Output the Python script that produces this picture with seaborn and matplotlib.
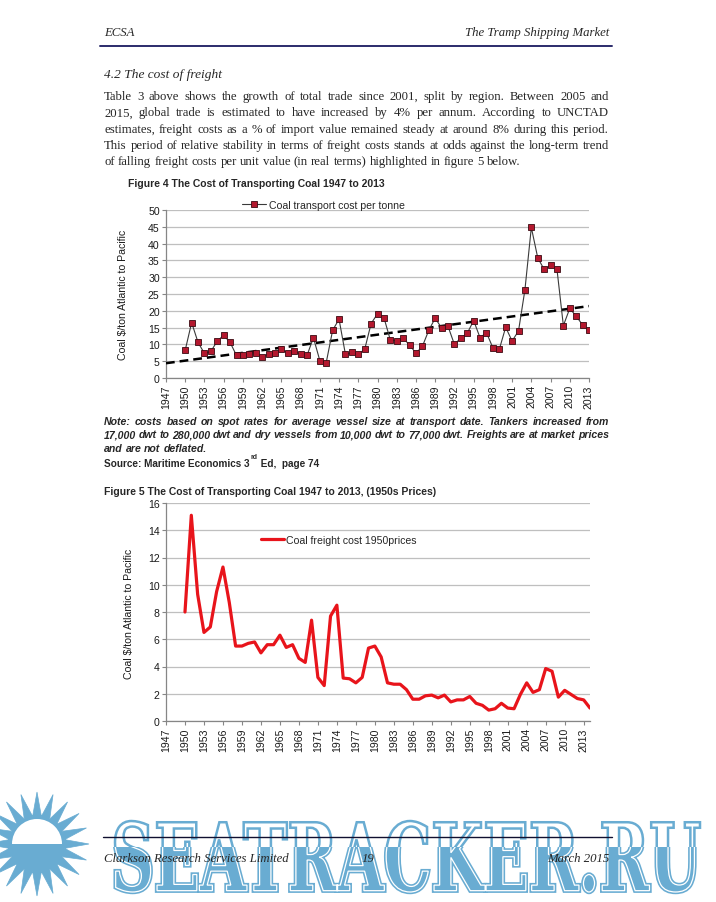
import numpy as np
import pandas as pd
import matplotlib
matplotlib.use("Agg")
import matplotlib.pyplot as plt
import seaborn as sns
from matplotlib.font_manager import FontProperties
from matplotlib.textpath import TextPath
from matplotlib.patches import PathPatch, Rectangle, Polygon, Wedge
from matplotlib.transforms import Affine2D

# ************* DATA *****************

# figure 4: nominal cost per tonne, 1950-2013
years_nominal = list(range(1950, 2014))
cost_nominal = [8.3, 16.5, 10.6, 7.3, 7.9, 11.0, 12.7, 10.6, 6.7, 6.8,
                7.0, 7.3, 6.3, 7.2, 7.4, 8.5, 7.4, 7.9, 7.1, 6.7,
                12.0, 5.2, 4.6, 14.2, 17.5, 7.0, 7.6, 7.1, 8.5, 16.2,
                19.1, 18.0, 11.3, 11.1, 11.9, 9.8, 7.4, 9.4, 14.2, 17.8,
                14.9, 15.4, 10.0, 11.9, 13.3, 17.1, 12.0, 13.5, 9.0, 8.5,
                15.1, 11.0, 14.0, 26.2, 44.8, 35.8, 32.3, 33.5, 32.4, 15.6,
                20.7, 18.4, 15.8, 14.2]
# dashed linear trend at both ends
trend_years = [1947, 2013]
trend_vals = [4.4, 21.4]

# figure 5: cost in 1950s prices, 1950-2014
years_real = list(range(1950, 2015))
cost_real = [8.0, 15.1, 9.3, 6.5, 6.9, 9.5, 11.3, 8.7, 5.5, 5.5,
             5.7, 5.8, 5.0, 5.6, 5.6, 6.3, 5.4, 5.6, 4.6, 4.3,
             7.4, 3.2, 2.6, 7.7, 8.5, 3.15, 3.1, 2.8, 3.2, 5.35,
             5.5, 4.7, 2.8, 2.7, 2.7, 2.3, 1.6, 1.6, 1.85, 1.9,
             1.7, 1.9, 1.4, 1.55, 1.55, 1.8, 1.3, 1.15, 0.8, 0.9,
             1.3, 0.95, 0.9, 1.95, 2.8, 2.1, 2.3, 3.85, 3.65, 1.75,
             2.25, 1.95, 1.65, 1.55, 0.95]

xtick_years = list(range(1947, 2014, 3))

body_lines = [
    "Table 3 above shows the growth of total trade since 2001, split by region. Between 2005 and",
    "2015, global trade is estimated to have increased by 4% per annum. According to UNCTAD",
    "estimates, freight costs as a % of import value remained steady at around 8% during this period.",
    "This period of relative stability in terms of freight costs stands at odds against the long-term trend",
    "of falling freight costs per unit value (in real terms) highlighted in figure 5 below.",
]
note_lines = [
    "Note: costs based on spot rates for average vessel size at transport date. Tankers increased from",
    "17,000 dwt to 280,000 dwt and dry vessels from 10,000 dwt to 77,000 dwt. Freights are at market prices",
    "and are not deflated.",
]

# ************* PAGE *****************

W, H = 716, 903
def fx(px):
    return px / W
def fy(py):
    return 1 - py / H

sns.set_style("white")
plt.rcParams['font.family'] = ['Liberation Sans', 'DejaVu Sans']

fig = plt.figure(figsize=(W / 100, H / 100), dpi=100)
fig.patch.set_facecolor("white")
renderer = fig.canvas.get_renderer()

serif = FontProperties(family="Liberation Serif", size=9.2)
serif_it = FontProperties(family="Liberation Serif", style="italic", size=9.2)
note_prop = FontProperties(family="Liberation Sans", style="italic", weight="bold", size=7.6)
bold_small = FontProperties(family="Liberation Sans", weight="bold", size=7.5)
small = 7.6

def text_w(s, prop):
    return renderer.get_text_width_height_descent(s, prop, ismath=False)[0]

def justified(line, x0, x1, y, prop, last=False, z=5):
    words = line.split()
    widths = [text_w(w, prop) for w in words]
    natural = text_w("a b", prop) - text_w("ab", prop)
    if last or len(words) < 2:
        gap = natural
    else:
        gap = max((x1 - x0 - sum(widths)) / (len(words) - 1), natural * 0.6)
    x = x0
    for w, wd in zip(words, widths):
        fig.text(fx(x), fy(y), w, fontproperties=prop, va="baseline", ha="left", zorder=z)
        x += wd + gap

# header
fig.text(fx(104), fy(36), "ECSA", fontproperties=serif_it, va="baseline")
fig.text(fx(609), fy(36), "The Tramp Shipping Market", fontproperties=serif_it,
         va="baseline", ha="right")
fig.add_artist(plt.Line2D([fx(100), fx(612)], [fy(47), fy(47)], color="#2b2b6b", lw=1.4))

fig.text(fx(104), fy(78), "4.2 The cost of freight",
         fontproperties=FontProperties(family="Liberation Serif", style="italic", size=9.6),
         va="baseline")
for i, line in enumerate(body_lines):
    justified(line, 104, 609, 100 + i * 16.3, serif, last=(i == len(body_lines) - 1))

# ************* FIGURE 4 *****************

fig.text(fx(128), fy(187), "Figure 4 The Cost of Transporting Coal 1947 to 2013",
         fontproperties=bold_small, va="baseline")

grid_c = "#bfbfbf"
axis_c = "#868686"

ax1 = fig.add_axes([fx(166), fy(379), (589 - 166) / W, (379 - 211) / H])
sns.lineplot(x=years_nominal, y=cost_nominal, ax=ax1, color="#3a3a3a", lw=0.8,
             marker="s", markersize=4.3, markerfacecolor="#b3182e",
             markeredgecolor="#3b0a12", markeredgewidth=0.6,
             label="Coal transport cost per tonne", zorder=4)
ax1.plot(trend_years, trend_vals, color="black", lw=1.8, ls=(0, (3.5, 2)), zorder=3)
ax1.set_xlim(1947, 2013)
ax1.set_ylim(0, 50)
ax1.set_yticks(range(0, 51, 5))
ax1.set_xticks(xtick_years)
ax1.set_xticklabels([str(y) for y in xtick_years], rotation=90)
ax1.legend_.remove()

ax2 = fig.add_axes([fx(166), fy(722), (590 - 166) / W, (722 - 504) / H])
sns.lineplot(x=years_real, y=cost_real, ax=ax2, color="#e8141b", lw=2.3,
             label="Coal freight cost 1950prices", zorder=4)
ax2.set_xlim(1947, 2014)
ax2.set_ylim(0, 16)
ax2.set_yticks(range(0, 17, 2))
ax2.set_xticks(xtick_years)
ax2.set_xticklabels([str(y) for y in xtick_years], rotation=90)
ax2.legend_.remove()

for ax in (ax1, ax2):
    ax.set_xlabel("")
    ax.set_ylabel("")
    ax.set_facecolor("none")
    ax.yaxis.grid(True, color=grid_c, lw=0.9)
    ax.xaxis.grid(False)
    ax.set_axisbelow(True)
    for s in ("top", "right"):
        ax.spines[s].set_visible(False)
    for s in ("left", "bottom"):
        ax.spines[s].set_color(axis_c)
        ax.spines[s].set_linewidth(0.9)
    ax.tick_params(axis="both", which="major", labelsize=small, length=3, width=0.8,
                   color=axis_c, pad=1.5, labelcolor="#1a1a1a", direction="out")
    ax.tick_params(axis="x", bottom=True)
    ax.tick_params(axis="y", left=True)

fig.text(fx(123), fy(295), "Coal $/ton Atlantic to Pacific", rotation=90,
         ha="center", va="center", fontsize=small, color="#1a1a1a")
fig.text(fx(129), fy(614), "Coal $/ton Atlantic to Pacific", rotation=90,
         ha="center", va="center", fontsize=small, color="#1a1a1a")

h1, l1 = ax1.get_legend_handles_labels()
fig.legend(h1[:1], l1[:1], loc="center left", bbox_to_anchor=(fx(242), fy(206)),
           frameon=False, fontsize=small, handlelength=2.3, handletextpad=0.25,
           borderpad=0, borderaxespad=0)
h2, l2 = ax2.get_legend_handles_labels()
fig.legend(h2[:1], l2[:1], loc="center left", bbox_to_anchor=(fx(261), fy(541)),
           frameon=False, fontsize=small, handlelength=2.2, handletextpad=0.2,
           borderpad=0, borderaxespad=0)

# note + source
for i, line in enumerate(note_lines):
    justified(line, 104, 609, 425 + i * 13.5, note_prop, last=(i == len(note_lines) - 1))
src1 = "Source: Maritime Economics 3"
src_prop = FontProperties(family="Liberation Sans", weight="bold", size=7.2)
fig.text(fx(104), fy(467), src1, fontproperties=src_prop, va="baseline")
xs = 104 + text_w(src1, src_prop) + 1
sup = FontProperties(family="Liberation Sans", weight="bold", size=5)
fig.text(fx(xs), fy(459), "rd", fontproperties=sup, va="baseline")
fig.text(fx(xs + text_w("rd", sup) + 1), fy(467), " Ed,  page 74",
         fontproperties=src_prop, va="baseline")

fig.text(fx(104), fy(495), "Figure 5 The Cost of Transporting Coal 1947 to 2013, (1950s Prices)",
         fontproperties=bold_small, va="baseline")

# ************* WATERMARK *****************

wm_blue = "#69acd2"
water_level = H - 848  # display coords

tp = TextPath((0, 0), "SEATRACKER.RU", size=1,
              prop=FontProperties(family="DejaVu Serif", weight="bold"))
ext = tp.get_extents()
sx = (700 - 115) / ext.width
sy = (893 - 822) / ext.height
tr = Affine2D().translate(-ext.x0, -ext.y0).scale(sx, sy).translate(115, H - 893)

low_clip = Rectangle((0, 0), W, water_level, transform=None)
high_clip = Rectangle((0, water_level), W, H, transform=None)

p_low_rim = PathPatch(tp, transform=tr, fc=wm_blue, ec=wm_blue, lw=3.2, zorder=1)
p_low = PathPatch(tp, transform=tr, fc=wm_blue, ec="white", lw=0.9, zorder=1.1)
p_high = PathPatch(tp, transform=tr, fc="white", ec=wm_blue, lw=1.8, zorder=1.2)
for p, c in ((p_low_rim, low_clip), (p_low, low_clip), (p_high, high_clip)):
    fig.add_artist(p)
    p.set_clip_path(c)

# sun
cx, cy = 37, H - 845
n_rays = 20
ang = np.linspace(0, 2 * np.pi, 2 * n_rays, endpoint=False)
rad = np.where(np.arange(2 * n_rays) % 2 == 0, 52, 28)
star = Polygon(np.column_stack([cx + rad * np.cos(ang), cy + rad * np.sin(ang)]),
               closed=True, transform=None, fc=wm_blue, ec=wm_blue, lw=0.5, zorder=1)
fig.add_artist(star)
fig.add_artist(Wedge((cx, cy), 25, 0, 180, transform=None, fc="white", ec="none", zorder=1.2))

# ************* FOOTER *****************

fig.add_artist(plt.Line2D([fx(103), fx(612)], [fy(838), fy(838)], color="#101030", lw=1.0,
                          zorder=6))
fig.text(fx(104), fy(862), "Clarkson Research Services Limited", fontproperties=serif_it,
         va="baseline", zorder=6)
fig.text(fx(368), fy(862), "19", fontproperties=serif_it, va="baseline", ha="center", zorder=6)
fig.text(fx(609), fy(862), "March 2015", fontproperties=serif_it, va="baseline", ha="right",
         zorder=6)

fig.savefig("out.png", dpi=100)
